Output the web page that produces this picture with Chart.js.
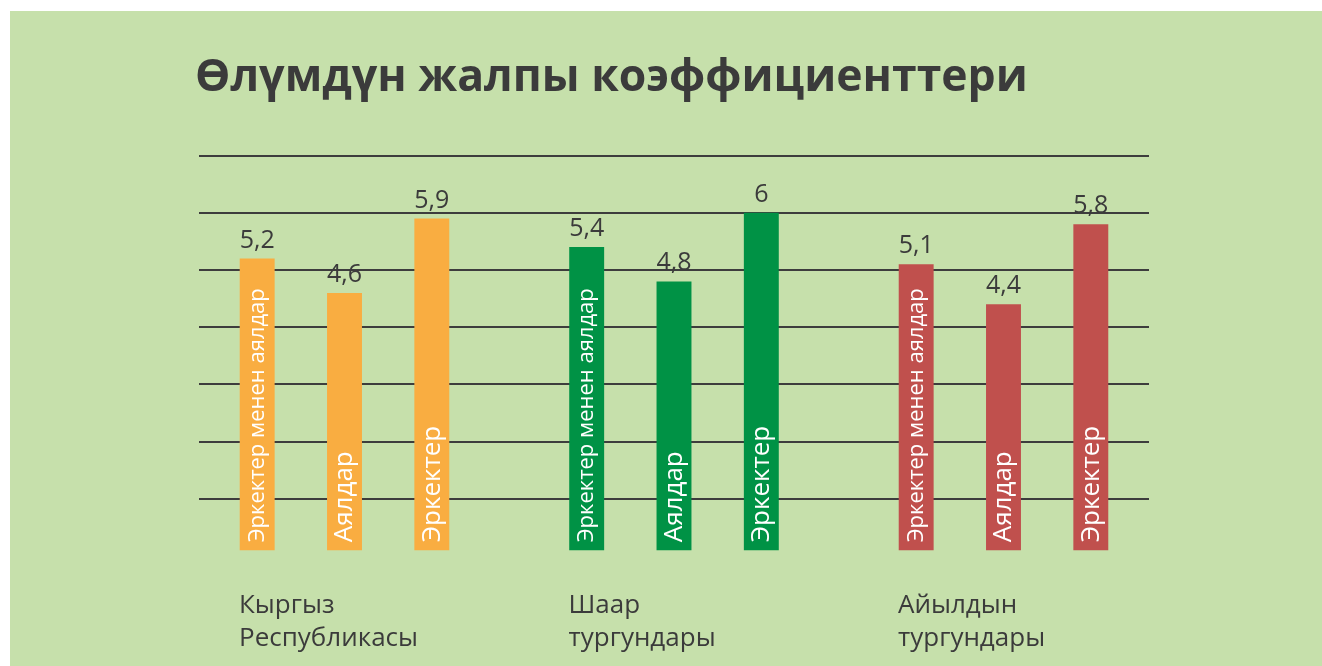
<!DOCTYPE html>
<html>
<head>
<meta charset="utf-8">
<script src="https://cdn.jsdelivr.net/npm/chart.js@4.4.1/dist/chart.umd.min.js"></script>
<style>
  html, body { margin: 0; padding: 0; background: #fff; }
  #card { position: absolute; left: 10px; top: 11px; width: 1312px; height: 655px; background: #c6e0ab; }
</style>
</head>
<body>
<div id="card"><canvas id="deathChart"></canvas></div>
<script>
// данные
const groups = [['Кыргыз', 'Республикасы'], ['Шаар', 'тургундары'], ['Айылдын', 'тургундары']];
const seriesNames = ['Эркектер менен аялдар', 'Аялдар', 'Эркектер'];
const bothSexes = [5.2, 5.4, 5.1];
const women = [4.6, 4.8, 4.4];
const men = [5.9, 6, 5.8];
const gridValues = [1, 2, 3, 4, 5, 6, 7];

const groupColors = ['#f9ad41', '#009245', '#c0504d'];
const textColor = '#3b3b3b';

const toPoints = arr => arr.map((v, i) => ({ x: i, y: v }));
const fmt = v => String(v).replace('.', ',');

// подписи над столбцами и повернутые подписи внутри
const barLabels = {
  id: 'barLabels',
  afterDatasetsDraw(chart) {
    const ctx = chart.ctx;
    chart.data.datasets.forEach((ds, di) => {
      const meta = chart.getDatasetMeta(di);
      const size = di === 0 ? 22 : 26;
      meta.data.forEach((bar, i) => {
        ctx.save();
        ctx.fillStyle = textColor;
        ctx.font = '25px "Open Sans"';
        ctx.textAlign = 'center';
        ctx.textBaseline = 'alphabetic';
        ctx.fillText(fmt(ds.data[i].y), bar.x, bar.y - 11);
        ctx.restore();

        ctx.save();
        ctx.translate(bar.x + size * 0.3, bar.base - 8);
        ctx.rotate(-Math.PI / 2);
        ctx.fillStyle = '#ffffff';
        ctx.font = size + 'px "Open Sans"';
        ctx.textAlign = 'left';
        ctx.textBaseline = 'alphabetic';
        ctx.fillText(ds.label, 0, 0);
        ctx.restore();
      });
    });
  }
};

const makeSet = (label, values) => ({
  label,
  data: toPoints(values),
  backgroundColor: groupColors,
  base: 0.1,
  categoryPercentage: 0.795,
  barPercentage: 0.4
});

new Chart(document.getElementById('deathChart'), {
  type: 'bar',
  data: {
    datasets: [
      makeSet(seriesNames[0], bothSexes),
      makeSet(seriesNames[1], women),
      makeSet(seriesNames[2], men)
    ]
  },
  options: {
    responsive: true,
    maintainAspectRatio: false,
    animation: false,
    layout: { padding: { left: 185, right: 173, top: 0, bottom: 0 } },
    plugins: {
      legend: { display: false },
      tooltip: { enabled: false },
      title: {
        display: true,
        text: 'Өлүмдүн жалпы коэффициенттери',
        align: 'start',
        color: textColor,
        font: { family: 'Open Sans', size: 44.5, weight: 'bold' },
        padding: { top: 41, bottom: 50.2 }
      }
    },
    scales: {
      x: {
        type: 'linear',
        offset: false,
        min: -0.4416,
        max: 2.4416,
        afterBuildTicks: s => { s.ticks = groups.map((g, i) => ({ value: i })); },
        afterFit: s => { s.height = 110; },
        grid: { display: false, drawTicks: false },
        border: { display: false },
        ticks: {
          callback: v => groups[v],
          align: 'start',
          labelOffset: -105.5,
          maxRotation: 0,
          autoSkip: false,
          padding: 33,
          color: textColor,
          font: { family: 'Open Sans', size: 26, lineHeight: 1.26 }
        }
      },
      y: {
        min: 0,
        max: 7,
        afterBuildTicks: s => { s.ticks = [0].concat(gridValues).map(v => ({ value: v })); },
        afterFit: s => { s.width = 4; },
        grid: {
          drawTicks: false,
          lineWidth: 2,
          color: c => (c.tick && c.tick.value === 0 ? 'rgba(0,0,0,0)' : '#3d3d3d')
        },
        border: { display: false },
        ticks: { display: false }
      }
    }
  },
  plugins: [barLabels]
});
</script>
</body>
</html>
